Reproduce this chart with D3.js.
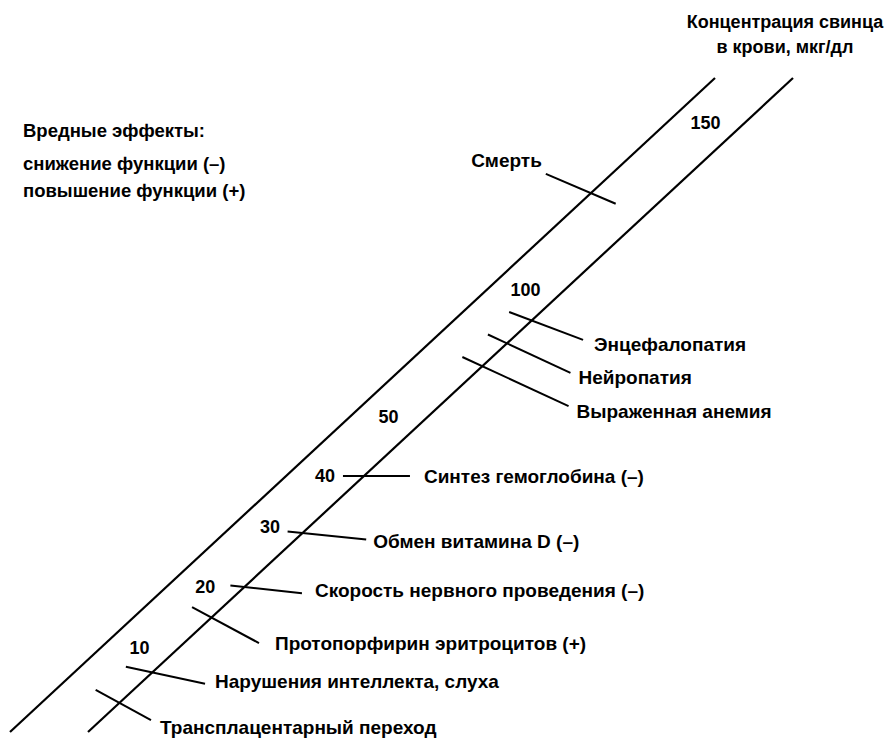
<!DOCTYPE html>
<html>
<head>
<meta charset="utf-8">
<script src="https://cdn.jsdelivr.net/npm/d3@7"></script>
<style>
  body { margin: 0; background: #fff; }
  text { font-family: "Liberation Sans", Arial, sans-serif; font-weight: bold; font-size: 18px; fill: #000; }
  .effect text { font-size: 19px; }
  .legend { font-size: 18.5px; }
</style>
</head>
<body>
<svg id="chart"></svg>
<script>
// scale ticks, мкг/дл
var tickValues = [10, 20, 30, 40, 50, 100, 150];

// effects and the blood lead level at which each crosses the scale
var effectNames = [
    "Трансплацентарный переход",
    "Нарушения интеллекта, слуха",
    "Протопорфирин эритроцитов (+)",
    "Скорость нервного проведения (–)",
    "Обмен витамина D (–)",
    "Синтез гемоглобина (–)",
    "Выраженная анемия",
    "Нейропатия",
    "Энцефалопатия",
    "Смерть"
];
var effectLevels = [1, 6, 15, 20, 29, 40, 70, 79, 88, 129];

var titleLines = ["Концентрация свинца", "в крови, мкг/дл"];
var legendLines = ["Вредные эффекты:", "снижение функции (–)", "повышение функции (+)"];

var width = 891, height = 744;

var svg = d3.select("#chart")
    .attr("width", width)
    .attr("height", height);

// level -> vertical position; the printed scale is not uniform, so piecewise
var y = d3.scaleLinear()
    .domain(tickValues)
    .range([648, 587, 527, 476, 417, 290, 123]);

// the scale is a slanted band between two parallel lines
var band = {top: 78, bottom: 732, left: 10, slope: 705 / 654, gap: 78};
function bandX(yy, side) {
    return band.left + (band.bottom - yy) * band.slope + side * band.gap;
}

// leader style for each effect (same order as effectNames)
// side: 0 = upper line, 1 = lower line
var leaders = [
    {side: 1, angle: 28.6, back: 27, fwd: 36, dx: 9,  dy: 7},
    {side: 1, angle: 12.1, back: 27, fwd: 54, dx: 10, dy: -2},
    {side: 1, angle: 28.3, back: 22, fwd: 54, dx: 16, dy: 0},
    {side: 1, angle: 6.3,  back: 14, fwd: 58, dx: 13, dy: -3},
    {side: 1, angle: 5.9,  back: 15, fwd: 64, dx: 7,  dy: 2},
    {side: 1, angle: 0,    back: 21, fwd: 46, dx: 14, dy: 0},
    {side: 1, angle: 24.8, back: 22, fwd: 95, dx: 8,  dy: 5},
    {side: 1, angle: 24.9, back: 21, fwd: 70, dx: 8,  dy: 5},
    {side: 1, angle: 20.7, back: 24, fwd: 55, dx: 11, dy: 4},
    {side: 0, angle: 23.2, back: 49, fwd: 27, dx: -4, dy: -13, atStart: true}
];

// band lines
[0, 1].forEach(function(side) {
    svg.append("line")
        .attr("x1", bandX(band.bottom, side))
        .attr("y1", band.bottom)
        .attr("x2", bandX(band.top, side))
        .attr("y2", band.top)
        .attr("stroke", "#000")
        .attr("stroke-width", 2.2);
});

// tick numbers sit in the middle of the band
svg.selectAll(".tick")
    .data(tickValues)
    .enter().append("text")
    .attr("class", "tick")
    .attr("x", function(d) { return bandX(y(d), 0.5); })
    .attr("y", function(d) { return y(d); })
    .attr("dy", "0.35em")
    .attr("text-anchor", "middle")
    .text(function(d) { return d; });

var effects = effectNames.map(function(name, i) {
    var l = leaders[i],
        a = l.angle * Math.PI / 180,
        cy = y(effectLevels[i]),
        cx = bandX(cy, l.side);
    return {
        name: name,
        x1: cx - l.back * Math.cos(a), y1: cy - l.back * Math.sin(a),
        x2: cx + l.fwd * Math.cos(a),  y2: cy + l.fwd * Math.sin(a),
        l: l
    };
});

var eff = svg.selectAll(".effect")
    .data(effects)
    .enter().append("g")
    .attr("class", "effect");

eff.append("line")
    .attr("x1", function(d) { return d.x1; })
    .attr("y1", function(d) { return d.y1; })
    .attr("x2", function(d) { return d.x2; })
    .attr("y2", function(d) { return d.y2; })
    .attr("stroke", "#000")
    .attr("stroke-width", 2);

eff.append("text")
    .attr("x", function(d) { return (d.l.atStart ? d.x1 : d.x2) + d.l.dx; })
    .attr("y", function(d) { return (d.l.atStart ? d.y1 : d.y2) + d.l.dy; })
    .attr("dy", "0.35em")
    .attr("text-anchor", function(d) { return d.l.atStart ? "end" : "start"; })
    .text(function(d) { return d.name; });

// axis title, top right
svg.selectAll(".title")
    .data(titleLines)
    .enter().append("text")
    .attr("class", "title")
    .attr("x", 785)
    .attr("y", function(d, i) { return 28 + i * 25; })
    .attr("text-anchor", "middle")
    .text(function(d) { return d; });

// legend, top left
var legendY = [137, 170, 197];
svg.selectAll(".legend")
    .data(legendLines)
    .enter().append("text")
    .attr("class", "legend")
    .attr("x", 23)
    .attr("y", function(d, i) { return legendY[i]; })
    .text(function(d) { return d; });
</script>
</body>
</html>
